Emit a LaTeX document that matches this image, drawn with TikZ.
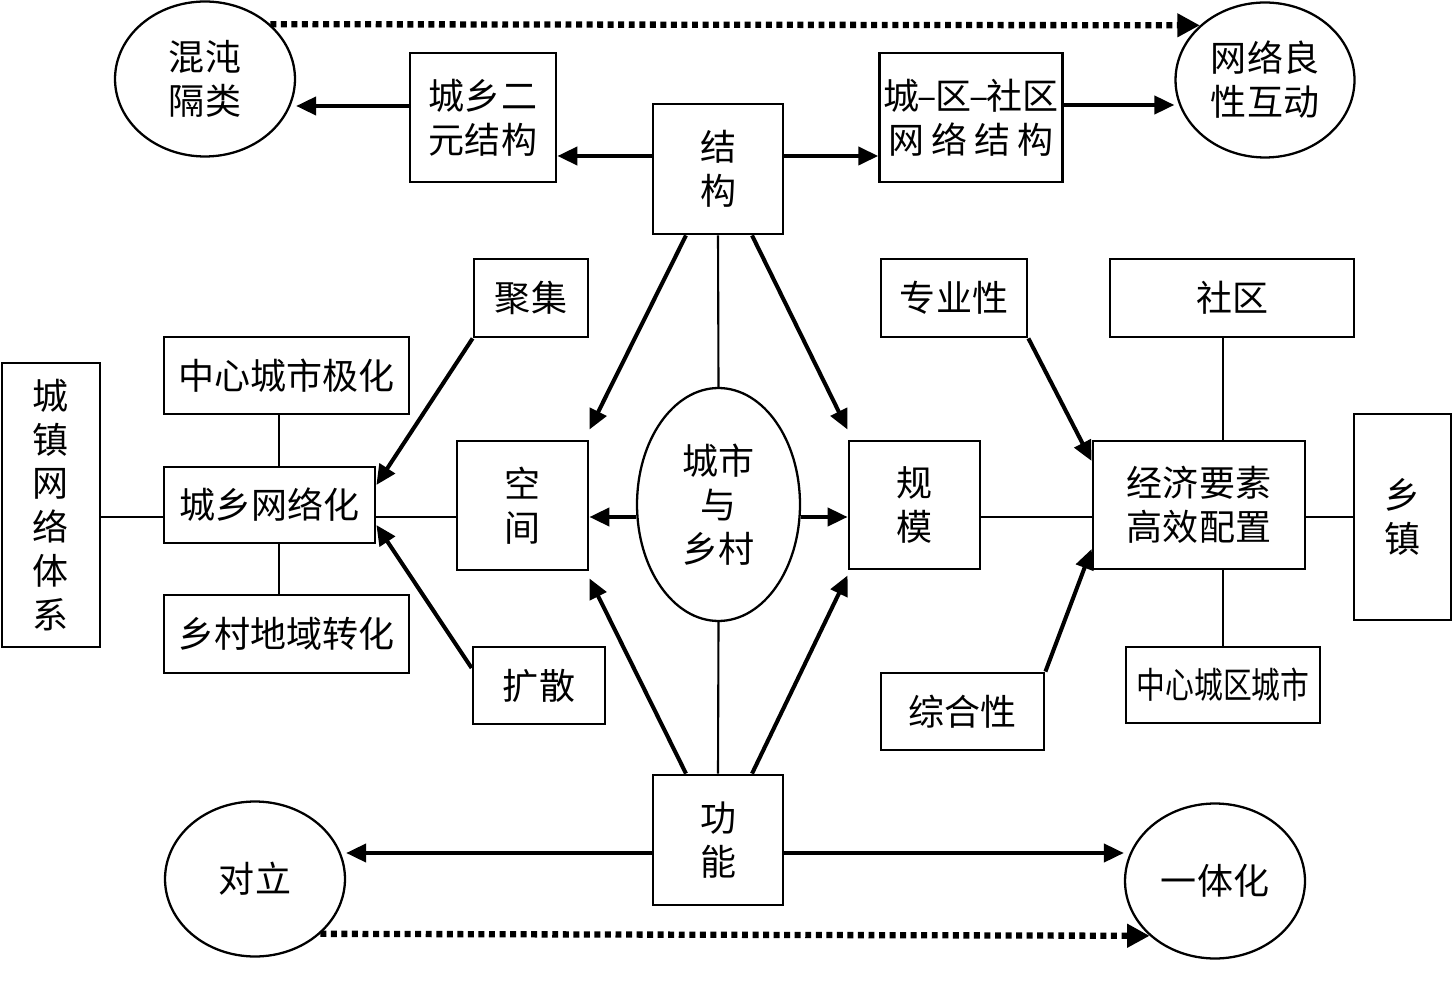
\documentclass[tikz,border=0pt]{standalone}
\usepackage{fontspec}
\usepackage{graphicx}
\usetikzlibrary{arrows.meta,shapes.geometric,calc}
\newfontfamily\cjk{Noto Sans CJK SC}
\newcommand{\labelfont}{\fontsize{20.5}{25}\selectfont}
\tikzset{
  box/.style={draw, line width=1.6pt, inner sep=2pt, align=center, font=\cjk\labelfont},
  bubble/.style={ellipse, draw, line width=1.3pt, inner sep=0pt,
    minimum width=3.6cm, minimum height=3.1cm, align=center, font=\cjk\labelfont},
  arr/.style={line width=2.3pt, -{Triangle[length=0.4cm,width=0.36cm]}},
  link/.style={line width=1.2pt},
  dotarr/.style={line width=3.6pt, dash pattern=on 3.4pt off 2.6pt,
    -{Triangle[length=0.45cm,width=0.45cm]}},
}

\begin{document}
\begin{tikzpicture}[x=0.02cm, y=-0.02cm]
\useasboundingbox (0,0) rectangle (1453,996);

% top row
\node[bubble] (hundun) at (205,79) {混沌\\隔类};
\node[bubble, minimum width=3.58cm] (wangluo) at (1265,80) {网络良\\性互动};
\node[box, minimum width=2.92cm, minimum height=2.58cm] (eryuan) at (483,117.5) {城乡二\\元结构};
\node[box, minimum width=2.6cm, minimum height=2.6cm] (jiegou) at (718,169) {结\\构};
\node[box, minimum width=3.6cm, minimum height=2.58cm] (chengqu) at (971,117.5)
  {城\kern-1pt–\kern-1pt区\kern-1pt–\kern-1pt社区\\网\kern4pt络\kern4pt结\kern4pt构};

% left block
\node[box, minimum width=2.28cm, minimum height=1.56cm] (juji) at (531,298) {聚集};
\node[box, minimum width=4.9cm, minimum height=1.54cm] (jihua) at (286.5,375.5) {中心城市极化};
\node[box, minimum width=1.96cm, minimum height=5.68cm] (chengzhen) at (51,505) {城\\镇\\网\\络\\体\\系};
\node[box, minimum width=4.22cm, minimum height=1.52cm] (wangluohua) at (269.5,505) {城乡网络化};
\node[box, minimum width=4.9cm, minimum height=1.56cm] (zhuanhua) at (286.5,634) {乡村地域转化};
\node[box, minimum width=2.64cm, minimum height=1.54cm] (kuosan) at (539,685.5) {扩散};
\node[box, minimum width=2.62cm, minimum height=2.58cm] (kongjian) at (522.5,505.5) {空\\间};

% centre
\node[bubble, minimum width=3.26cm, minimum height=4.66cm] (chengxiang) at (718.5,504.5) {城市\\与\\乡村};

% right block
\node[box, minimum width=2.62cm, minimum height=2.56cm] (guimo) at (914.5,505) {规\\模};
\node[box, minimum width=2.92cm, minimum height=1.56cm] (zhuanye) at (954,298) {专业性};
\node[box, minimum width=4.88cm, minimum height=1.56cm] (shequ) at (1232,298) {社区};
\node[box, minimum width=4.24cm, minimum height=2.56cm] (jingji) at (1199,505) {经济要素\\高效配置};
\node[box, minimum width=1.94cm, minimum height=4.12cm] (xiangzhen) at (1402.5,517) {乡\\镇};
\node[box, minimum width=3.88cm, minimum height=1.52cm] (zhongxin) at (1223,685) {\scalebox{0.8}[1]{中心城区城市}};
\node[box, minimum width=3.26cm, minimum height=1.54cm] (zonghe) at (962.5,711.5) {综合性};

% bottom row
\node[box, minimum width=2.6cm, minimum height=2.6cm] (gongneng) at (718,840) {功\\能};
\node[bubble] (duili) at (255,879) {对立};
\node[bubble] (yiti) at (1215,881) {一体化};

% connectors, top
\draw[dotarr] (hundun.40) -- (wangluo.140);
\draw[arr] (eryuan.west |- 0,106) -- (hundun.east |- 0,106);
\draw[arr] (jiegou.west |- 0,156) -- (eryuan.east |- 0,156);
\draw[arr] (jiegou.east |- 0,156) -- (chengqu.west |- 0,156);
\draw[arr] (chengqu.east |- 0,105) -- (wangluo.west |- 0,105);

% connectors, centre
\draw[arr] (jiegou.south -| 686,0) -- ($(kongjian.north east)+(0,-10)$);
\draw[arr] (jiegou.south -| 752,0) -- ($(guimo.north west)+(0,-10)$);
\draw[link] (jiegou.south) -- (chengxiang.north);
\draw[arr] (chengxiang.west |- 0,517) -- (kongjian.east |- 0,517);
\draw[arr] (chengxiang.east |- 0,517) -- (guimo.west |- 0,517);
\draw[link] (gongneng.north) -- (chengxiang.south);
\draw[arr] (gongneng.north -| 686,0) -- ($(kongjian.south east)+(0,7)$);
\draw[arr] (gongneng.north -| 752,0) -- ($(guimo.south west)+(0,5)$);

% connectors, left
\draw[link] (chengzhen.east |- 0,517) -- (wangluohua.west |- 0,517);
\draw[link] (wangluohua.east |- 0,517) -- (kongjian.west |- 0,517);
\draw[link] (jihua.south -| 279,0) -- (wangluohua.north -| 279,0);
\draw[link] (wangluohua.south -| 279,0) -- (zhuanhua.north -| 279,0);
\draw[arr] (juji.south west) -- (wangluohua.east |- 0,485);
\draw[arr] (kuosan.west |- 0,668) -- (wangluohua.east |- 0,525);

% connectors, right
\draw[link] (guimo.east |- 0,517) -- (jingji.west |- 0,517);
\draw[link] (jingji.east |- 0,517) -- (xiangzhen.west |- 0,517);
\draw[arr] (zhuanye.south east) -- (jingji.west |- 0,461);
\draw[arr] (zonghe.north east) -- (jingji.west |- 0,549);
\draw[link] (shequ.south -| zhongxin.north) -- (jingji.north -| zhongxin.north);
\draw[link] (jingji.south -| zhongxin.north) -- (zhongxin.north);

% connectors, bottom
\draw[arr] (gongneng.west |- 0,853) -- (duili.east |- 0,853);
\draw[arr] (gongneng.east |- 0,853) -- (yiti.west |- 0,853);
\draw[dotarr] (duili.-40) -- (yiti.220);
\end{tikzpicture}
\end{document}
